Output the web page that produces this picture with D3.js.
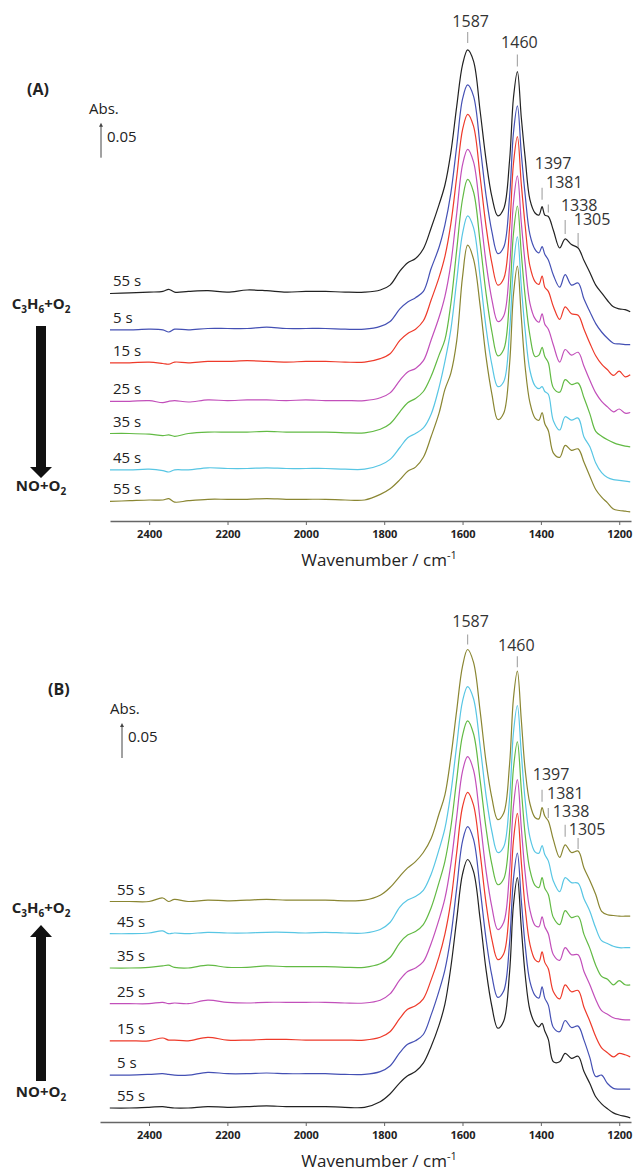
<!DOCTYPE html>
<html>
<head>
<meta charset="utf-8">
<script src="https://cdn.jsdelivr.net/npm/d3@7"></script>
<style>
  body { margin: 0; background: #fff; }
  text { font-family: "Open Sans", "DejaVu Sans", sans-serif; fill: #222; }
</style>
</head>
<body>
<div id="chart"></div>
<script>

// wavenumber grid (cm-1), shared by every spectrum
var wavenumbers = [2500, 2450, 2400, 2365, 2350, 2335, 2300, 2250, 2200, 2150,
  2100, 2050, 2000, 1950, 1900, 1850, 1810, 1785, 1760, 1740,
  1720, 1700, 1680, 1660, 1645, 1630, 1615, 1600, 1587, 1572,
  1555, 1540, 1525, 1510, 1495, 1480, 1470, 1460, 1450, 1440,
  1428, 1415, 1405, 1397, 1390, 1381, 1368, 1352, 1338, 1322,
  1305, 1290, 1275, 1260, 1245, 1230, 1215, 1200, 1185, 1172];

// Panel A : C3H6+O2 -> NO+O2 (absorbance, mAbs)
var a55sStart = [-1,0,1,2,5,1,2,3,1,4,3,1,2,2,1,1, 4,11,31,43,49,63,93,126,154,200, 266,326,347,331,259,190,137,110,120,189, 279,316,250,192,133,114,111,123,111,109, 89,64,77,69,64,46,29,11,0,-11, -20,-23,-24,-27];
var a5s = [0,0,1,0,-3,1,0,2,2,2,4,2,2,2,1,1, 5,12,30,40,46,55,88,118,150,195, 262,330,350,334,262,192,140,109,118,190, 282,320,252,192,136,115,110,119,108,100, 78,61,79,64,67,44,26,9,-3,-12, -19,-20,-21,-21];
var a15s = [0,0,1,-1,-2,1,0,2,2,3,2,1,2,2,1,1, 6,13,32,42,48,60,90,122,152,198, 265,333,355,338,265,195,142,111,120,192, 285,323,255,195,138,116,112,124,108,102, 80,62,80,70,68,48,28,10,-2,-10, -18,-12,-20,-17];
var a25s = [0,0,1,-2,0,1,-1,2,1,2,2,1,2,1,1,1, 5,12,30,42,47,58,88,120,150,196, 268,338,360,342,270,198,145,114,122,192, 284,322,255,196,140,118,113,125,110,103, 80,56,74,66,70,50,30,12,0,-8, -15,-11,-17,-16];
var a35s = [0,0,-1,-3,-2,-4,0,2,2,2,3,2,2,2,1,1, 6,14,31,44,50,60,82,112,134,185, 262,335,363,345,272,200,145,111,120,193, 286,325,257,195,140,110,112,123,110,101, 65,59,77,70,72,51,28,3,-4,-9, -13,-16,-18,-19];
var a45s = [0,0,1,-1,-3,0,0,3,2,2,3,2,2,2,1,1, 7,15,32,46,52,60,80,118,155,200, 270,338,363,346,275,203,150,119,126,198, 292,333,262,198,142,120,116,119,112,108, 70,57,76,71,74,47,33,10,-4,-11, -14,-15,-16,-17];
var a55sEnd = [-1,0,1,1,3,-2,0,2,2,2,3,2,2,2,1,1, 9,17,30,42,48,62,92,125,159,182, 228,320,365,345,278,205,152,116,125,195, 295,335,262,190,140,118,115,126,110,100, 68,62,79,72,74,55,35,16,5,-3, -12,-14,-15,-16];

// Panel B : NO+O2 -> C3H6+O2
var b55sEnd = [0,0,0,5,0,3,0,2,1,2,3,2,2,2,1,2, 9,20,36,48,57,70,90,125,152,205, 272,336,360,342,272,200,148,117,126,195, 290,329,260,188,140,120,118,134,122,115, 88,63,81,70,72,48,30,10,-14,-19, -20,-21,-21,-21];
var b45s = [0,0,1,4,0,1,0,2,1,1,2,2,1,2,1,1, 6,16,38,48,53,62,85,120,150,200, 268,332,353,336,268,198,146,116,124,192, 287,326,258,190,138,117,115,126,113,104, 75,60,80,73,72,50,32,8,-10,-14, -18,-20,-20,-20];
var b35s = [0,0,1,3,4,1,0,4,1,1,3,2,2,2,1,1, 6,15,36,47,52,62,86,122,152,200, 268,332,353,335,268,200,148,119,127,193, 285,323,256,190,140,118,115,129,114,105, 72,62,82,72,74,48,28,4,-12,-16, -24,-18,-24,-24];
var b25s = [0,0,0,2,0,1,0,5,2,1,2,2,2,2,1,1, 5,14,34,46,51,60,86,120,150,198, 266,332,353,334,262,190,138,106,116,188, 282,320,252,186,134,112,110,124,110,100, 70,62,80,70,70,46,27,6,-10,-15, -20,-22,-23,-23];
var b15s = [0,0,0,4,1,1,0,5,1,1,2,2,1,1,1,1, 5,13,32,45,50,60,87,120,152,198, 268,334,355,337,268,197,145,116,124,192, 286,325,256,190,138,116,113,127,112,103, 70,60,80,70,72,48,28,6,-10,-17, -23,-18,-20,-23];
var b5s = [0,0,1,2,1,0,0,4,2,2,3,2,2,2,1,1, 5,13,32,44,49,58,86,120,150,197, 266,334,355,337,266,195,142,111,120,188, 280,317,250,185,134,114,110,126,110,100, 68,62,78,68,70,50,25,-2,0,-12, -19,-20,-20,-20];
var b55sStart = [0,0,1,2,1,0,0,2,1,2,3,2,2,2,1,1, 9,20,36,46,52,64,88,118,148,200, 268,334,355,338,270,198,145,114,124,193, 290,329,258,190,140,121,116,121,110,98, 66,66,78,71,74,52,35,16,6,-1, -7,-10,-12,-14];

// stacking offsets (mAbs), top trace first
var offsetsA = [297, 244, 197, 142, 96, 44, 0];
var offsetsB = [295, 249, 200, 149, 96, 47, 0];

var labelsA = ["55 s", "5 s", "15 s", "25 s", "35 s", "45 s", "55 s"];
var labelsB = ["55 s", "45 s", "35 s", "25 s", "15 s", "5 s", "55 s"];

var tickValues = [2400, 2200, 2000, 1800, 1600, 1400, 1200];
var peakBands = [1587, 1460, 1397, 1381, 1338, 1305];
var scaleBarValue = 50; // mAbs = 0.05 Abs

var colorsA = ["#222222", "#4450b4", "#ee3a2a", "#c24fba", "#62ba44", "#58c6e4", "#8a8632"];
var colorsB = ["#8a8632", "#58c6e4", "#62ba44", "#c24fba", "#ee3a2a", "#4450b4", "#222222"];


var svg = d3.select("#chart")
  .append("svg")
  .attr("width", 635)
  .attr("height", 1171);


function drawPanel(p) {

  var x = d3.scaleLinear().domain(p.xDomain).range([p.left, 631]);
  var y = d3.scaleLinear().domain(p.yDomain).range([p.bottom, p.top]);
  var g = svg.append("g");

  // x axis
  var axis = g.append("g")
    .attr("transform", "translate(0," + p.bottom + ")")
    .call(d3.axisBottom(x).tickValues(tickValues).tickSize(4).tickSizeOuter(0).tickFormat(d3.format("d")));
  axis.select(".domain").attr("stroke", "#666").attr("stroke-width", 1.5);
  axis.selectAll(".tick line").attr("stroke", "#666");
  axis.selectAll(".tick text")
    .attr("y", 9)
    .style("font-size", "11px")
    .style("font-weight", "bold")
    .style("fill", "#222");

  var title = g.append("text")
    .attr("x", 379)
    .attr("y", p.bottom + 45)
    .attr("text-anchor", "middle")
    .style("font-size", "17px")
    .text("Wavenumber / cm");
  title.append("tspan")
    .attr("dy", -7)
    .style("font-size", "11px")
    .text("-1");

  // spectra
  p.series.forEach(function (vals, i) {
    var line = d3.line()
      .x(function (d, j) { return x(wavenumbers[j]); })
      .y(function (d) { return y(d + p.offsets[i]); })
      .curve(d3.curveCatmullRom.alpha(0.5));

    g.append("path")
      .datum(vals)
      .attr("d", line)
      .attr("fill", "none")
      .attr("stroke", p.colors[i])
      .attr("stroke-width", 1.2);

    g.append("text")
      .attr("x", p.labelX)
      .attr("y", y(p.offsets[i]) - 7)
      .style("font-size", "15px")
      .text(p.labels[i]);
  });

  // peak markers on the top trace
  var top = p.series[0];
  peakBands.forEach(function (wn, k) {
    var lay = p.peakLayout[k];
    var j = wavenumbers.indexOf(wn);
    var yb = y(top[j] + p.offsets[0]) - lay[0];
    var xt = x(wn);
    g.append("line")
      .attr("x1", xt).attr("x2", xt)
      .attr("y1", yb).attr("y2", yb - lay[1])
      .attr("stroke", "#aaa")
      .attr("stroke-width", 1.2);
    g.append("text")
      .attr("x", xt + lay[2])
      .attr("y", yb - lay[1] - lay[3])
      .attr("text-anchor", "middle")
      .style("font-size", "16px")
      .style("fill", "#333")
      .text(wn);
  });

  // panel letter
  g.append("text")
    .attr("x", p.letterX)
    .attr("y", p.letterY)
    .style("font-size", "16px")
    .style("font-weight", "bold")
    .text(p.letter);

  // 0.05 scale bar
  var y0 = y(p.barBase), y1 = y(p.barBase + scaleBarValue);
  g.append("line")
    .attr("x1", p.barX).attr("x2", p.barX)
    .attr("y1", y0).attr("y2", y1 + 3)
    .attr("stroke", "#444")
    .attr("stroke-width", 1);
  g.append("path")
    .attr("d", "M" + (p.barX - 2) + "," + (y1 + 4) + "L" + p.barX + "," + y1 + "L" + (p.barX + 2) + "," + (y1 + 4) + "Z")
    .attr("fill", "#444");
  g.append("text")
    .attr("x", p.barX - 12)
    .attr("y", y1 - 9)
    .style("font-size", "15px")
    .text("Abs.");
  g.append("text")
    .attr("x", p.barX + 6)
    .attr("y", y1 + 19)
    .style("font-size", "15px")
    .text("0.05");

  // gas switch arrow
  var ax = 41;
  var arrow = p.arrowDown
    ? "M" + (ax - 5) + "," + p.arrowStart + "H" + (ax + 5) + "V" + (p.arrowEnd - 11) + "H" + (ax + 11) +
      "L" + ax + "," + p.arrowEnd + "L" + (ax - 11) + "," + (p.arrowEnd - 11) + "H" + (ax - 5) + "Z"
    : "M" + (ax - 5) + "," + p.arrowStart + "H" + (ax + 5) + "V" + (p.arrowEnd + 12) + "H" + (ax + 11) +
      "L" + ax + "," + p.arrowEnd + "L" + (ax - 11) + "," + (p.arrowEnd + 12) + "H" + (ax - 5) + "Z";
  g.append("path").attr("d", arrow).attr("fill", "#111");

  gasLabel(g, ax, p.c3h6Y, [["C", 0], ["3", 1], ["H", 0], ["6", 1], ["+O", 0], ["2", 1]]);
  gasLabel(g, ax, p.noY, [["NO+O", 0], ["2", 1]]);
}


function gasLabel(g, x, y, parts) {
  var t = g.append("text")
    .attr("x", x)
    .attr("y", y)
    .attr("text-anchor", "middle")
    .style("font-size", "15px")
    .style("font-weight", "bold");
  var sub = false;
  parts.forEach(function (pt) {
    var s = t.append("tspan").text(pt[0]);
    if (pt[1]) {
      s.attr("dy", 4).style("font-size", "10px");
      sub = true;
    } else if (sub) {
      s.attr("dy", -4);
      sub = false;
    }
  });
}


drawPanel({
  series: [a55sStart, a5s, a15s, a25s, a35s, a45s, a55sEnd],
  offsets: offsetsA, labels: labelsA, colors: colorsA,
  xDomain: [2500, 1170], left: 110,
  yDomain: [-29, 691], bottom: 521, top: 17,
  labelX: 113,
  // [gap above trace, tick length, text dx, text lift]
  peakLayout: [[7, 11, 3, 5], [5, 12, 2, 7], [7, 12, 11, 19], [4, 8, 16, 17], [5, 14, 14, 9], [1, 14, 14, 8]],
  letter: "(A)", letterX: 27, letterY: 95,
  barX: 101, barBase: 490,
  arrowDown: true, arrowStart: 326, arrowEnd: 478,
  c3h6Y: 309, noY: 491
});

drawPanel({
  series: [b55sEnd, b45s, b35s, b25s, b15s, b5s, b55sStart],
  offsets: offsetsB, labels: labelsB, colors: colorsB,
  xDomain: [2525, 1170], left: 100,
  yDomain: [-20, 700], bottom: 1122, top: 618,
  labelX: 117,
  peakLayout: [[5, 10, 3, 8], [4, 11, -1, 5], [6, 12, 9, 10], [3, 10, 17, 9], [8, 12, 6, 8], [2, 11, 9, 3]],
  letter: "(B)", letterX: 48, letterY: 695,
  barX: 122, barBase: 500,
  arrowDown: false, arrowStart: 1081, arrowEnd: 925,
  c3h6Y: 913, noY: 1097
});

</script>
</body>
</html>
